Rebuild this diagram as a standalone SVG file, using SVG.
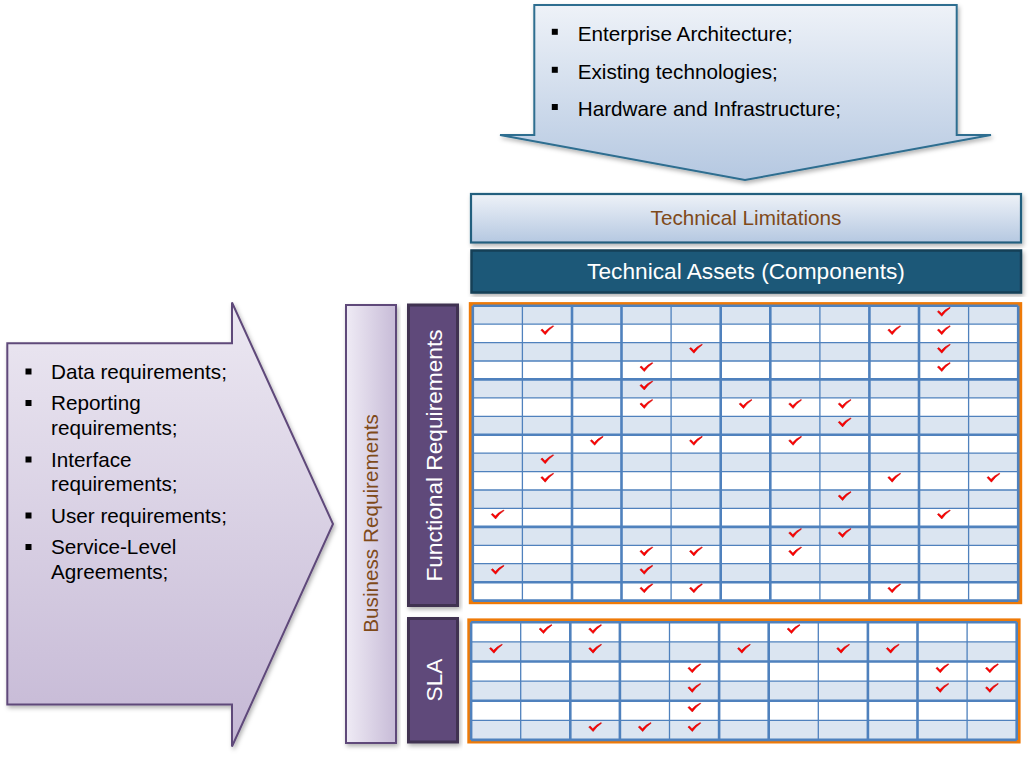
<svg xmlns="http://www.w3.org/2000/svg" width="1029" height="758" viewBox="0 0 1029 758">
<style>
  .txt { font-family: "Liberation Sans", Arial, sans-serif; }
  .bul { font-size: 20.7px; fill: #000000; }
  .brown { font-size: 20.7px; fill: #7F4A1A; }
  .white { font-size: 22.7px; fill: #FFFFFF; }
  .sq { fill: #000000; }
  .purple { fill: #5F497A; stroke: #3F3151; stroke-width: 3; }
  .orange { fill: #FFFFFF; stroke: #EE7A08; stroke-width: 3.8; }
  .shade { fill: #DBE5F1; }
  .thin { fill: none; stroke: #4F81BD; stroke-width: 1.3; }
  .thick { fill: none; stroke: #4F81BD; stroke-width: 2.6; }
</style>
<defs>
  <linearGradient id="gBlue" x1="0" y1="0" x2="0" y2="1">
    <stop offset="0" stop-color="#EEF2F8"/>
    <stop offset="1" stop-color="#B5C8E1"/>
  </linearGradient>
  <linearGradient id="gLav" x1="0" y1="0" x2="0" y2="1">
    <stop offset="0" stop-color="#ECE8F2"/>
    <stop offset="1" stop-color="#C5B8D5"/>
  </linearGradient>
  <linearGradient id="gLavH" x1="0" y1="0" x2="1" y2="0">
    <stop offset="0" stop-color="#EFEBF5"/>
    <stop offset="1" stop-color="#C7BBD7"/>
  </linearGradient>
  <filter id="sh" x="-10%" y="-10%" width="120%" height="120%">
    <feDropShadow dx="1.5" dy="2.5" stdDeviation="2" flood-color="#000000" flood-opacity="0.3"/>
  </filter>
  <path id="chk" d="M0,4.4 L1.5,3.4 L4.1,6.1 Q7.6,2.1 12.4,0 L12.9,0.6 Q8,3.8 4.4,9 Z" fill="#FF0000" stroke="#C00000" stroke-width="0.5"/>
</defs>

<rect x="0" y="0" width="1029" height="758" fill="#FFFFFF"/>

<g id="top-arrow">
  <path d="M534.3,5 H956.7 V135 H991 L745,180 L500,135 H534.3 Z" fill="url(#gBlue)" stroke="#2F6E90" stroke-width="2" filter="url(#sh)"/>
  <rect class="sq" x="551.8" y="28.8" width="6" height="6"/>
  <rect class="sq" x="551.8" y="66.8" width="6" height="6"/>
  <rect class="sq" x="551.8" y="104" width="6" height="6"/>
  <text class="txt bul" x="577.7" y="40.5">Enterprise Architecture;</text>
  <text class="txt bul" x="577.7" y="78.5">Existing technologies;</text>
  <text class="txt bul" x="577.7" y="115.7">Hardware and Infrastructure;</text>
</g>

<g id="technical-limitations">
  <rect x="471" y="194" width="550" height="48.5" fill="url(#gBlue)" stroke="#235E7E" stroke-width="2.2" filter="url(#sh)"/>
  <text class="txt brown" x="746" y="224.5" text-anchor="middle">Technical Limitations</text>
</g>

<g id="technical-assets">
  <rect x="471.5" y="250.5" width="549.5" height="42" fill="#1F5878" stroke="#163F57" stroke-width="2.5" filter="url(#sh)"/>
  <text class="txt white" x="746" y="278.8" text-anchor="middle">Technical Assets (Components)</text>
</g>

<g id="left-arrow">
  <path d="M7.3,343.3 H232 V302.5 L333,524 L232,746.5 V704.5 H7.3 Z" fill="url(#gLav)" stroke="#5F497A" stroke-width="2" filter="url(#sh)"/>
  <rect class="sq" x="25.5" y="368.5" width="6" height="6"/>
  <rect class="sq" x="25.5" y="400" width="6" height="6"/>
  <rect class="sq" x="25.5" y="456.5" width="6" height="6"/>
  <rect class="sq" x="25.5" y="512.5" width="6" height="6"/>
  <rect class="sq" x="25.5" y="544" width="6" height="6"/>
  <text class="txt bul" x="51" y="378.5">Data requirements;</text>
  <text class="txt bul" x="51" y="410">Reporting</text>
  <text class="txt bul" x="51" y="435">requirements;</text>
  <text class="txt bul" x="51" y="466.5">Interface</text>
  <text class="txt bul" x="51" y="491">requirements;</text>
  <text class="txt bul" x="51" y="522.5">User requirements;</text>
  <text class="txt bul" x="51" y="554">Service-Level</text>
  <text class="txt bul" x="51" y="579">Agreements;</text>
</g>

<g id="business-requirements">
  <rect x="346" y="305" width="50" height="438" fill="url(#gLavH)" stroke="#5F497A" stroke-width="2" filter="url(#sh)"/>
  <text class="txt brown" transform="translate(378.2,523.5) rotate(-90)" text-anchor="middle">Business Requirements</text>
</g>

<g id="functional-requirements">
  <rect class="purple" x="408.5" y="305" width="49" height="300.5" filter="url(#sh)"/>
  <text class="txt white" transform="translate(441.5,455.5) rotate(-90)" text-anchor="middle">Functional Requirements</text>
</g>

<g id="sla">
  <rect class="purple" x="408.5" y="618.5" width="49" height="123.5" filter="url(#sh)"/>
  <text class="txt white" transform="translate(441.5,680) rotate(-90)" text-anchor="middle">SLA</text>
</g>

<g id="functional-grid">
  <rect class="orange" x="470.7" y="304" width="549.6" height="298.3"/>
  <rect class="shade" x="472.8" y="305.7" width="545.4" height="18.43"/>
  <rect class="shade" x="472.8" y="342.6" width="545.4" height="18.43"/>
  <rect class="shade" x="472.8" y="379.4" width="545.4" height="18.43"/>
  <rect class="shade" x="472.8" y="416.3" width="545.4" height="18.43"/>
  <rect class="shade" x="472.8" y="453.1" width="545.4" height="18.43"/>
  <rect class="shade" x="472.8" y="490.0" width="545.4" height="18.43"/>
  <rect class="shade" x="472.8" y="526.9" width="545.4" height="18.43"/>
  <rect class="shade" x="472.8" y="563.7" width="545.4" height="18.43"/>
  <path class="thin" d="M522.4,305.7 V600.6 M671.1,305.7 V600.6 M819.9,305.7 V600.6 M968.6,305.7 V600.6
    M472.8,324.1 H1018.2 M472.8,342.6 H1018.2 M472.8,361.0 H1018.2 M472.8,397.9 H1018.2 M472.8,416.3 H1018.2
    M472.8,453.1 H1018.2 M472.8,471.6 H1018.2 M472.8,490.0 H1018.2 M472.8,508.4 H1018.2 M472.8,545.3 H1018.2 M472.8,563.7 H1018.2"/>
  <path class="thick" d="M472.8,305.7 V600.6 M572.0,305.7 V600.6 M621.5,305.7 V600.6 M720.7,305.7 V600.6 M770.3,305.7 V600.6
    M869.4,305.7 V600.6 M919.0,305.7 V600.6 M1018.2,305.7 V600.6
    M472.8,305.7 H1018.2 M472.8,379.4 H1018.2 M472.8,434.7 H1018.2 M472.8,526.9 H1018.2 M472.8,582.2 H1018.2 M472.8,600.6 H1018.2"/>
  <g id="functional-checks">
    <use href="#chk" x="937.4" y="307.3"/>
    <use href="#chk" x="540.8" y="325.7"/>
    <use href="#chk" x="887.8" y="325.7"/>
    <use href="#chk" x="937.4" y="325.7"/>
    <use href="#chk" x="689.5" y="344.2"/>
    <use href="#chk" x="937.4" y="344.2"/>
    <use href="#chk" x="639.9" y="362.6"/>
    <use href="#chk" x="937.4" y="362.6"/>
    <use href="#chk" x="639.9" y="381.0"/>
    <use href="#chk" x="639.9" y="399.5"/>
    <use href="#chk" x="739.1" y="399.5"/>
    <use href="#chk" x="788.7" y="399.5"/>
    <use href="#chk" x="838.2" y="399.5"/>
    <use href="#chk" x="838.2" y="417.9"/>
    <use href="#chk" x="590.3" y="436.3"/>
    <use href="#chk" x="689.5" y="436.3"/>
    <use href="#chk" x="788.7" y="436.3"/>
    <use href="#chk" x="540.8" y="454.7"/>
    <use href="#chk" x="540.8" y="473.2"/>
    <use href="#chk" x="887.8" y="473.2"/>
    <use href="#chk" x="987.0" y="473.2"/>
    <use href="#chk" x="838.2" y="491.6"/>
    <use href="#chk" x="491.2" y="510.0"/>
    <use href="#chk" x="937.4" y="510.0"/>
    <use href="#chk" x="788.7" y="528.5"/>
    <use href="#chk" x="838.2" y="528.5"/>
    <use href="#chk" x="639.9" y="546.9"/>
    <use href="#chk" x="689.5" y="546.9"/>
    <use href="#chk" x="788.7" y="546.9"/>
    <use href="#chk" x="491.2" y="565.3"/>
    <use href="#chk" x="639.9" y="565.3"/>
    <use href="#chk" x="639.9" y="583.8"/>
    <use href="#chk" x="689.5" y="583.8"/>
    <use href="#chk" x="887.8" y="583.8"/>
  </g>
</g>

<g id="sla-grid">
  <rect class="orange" x="469.2" y="620.3" width="549.5" height="121.3"/>
  <rect class="shade" x="471.1" y="641.9" width="545.6" height="19.6"/>
  <rect class="shade" x="471.1" y="681.1" width="545.6" height="19.6"/>
  <rect class="shade" x="471.1" y="720.3" width="545.6" height="19.6"/>
  <path class="thin" d="M520.7,622.3 V739.9 M669.5,622.3 V739.9 M818.3,622.3 V739.9 M967.1,622.3 V739.9
    M471.1,641.9 H1016.7 M471.1,681.1 H1016.7 M471.1,720.3 H1016.7"/>
  <path class="thick" d="M471.1,622.3 V739.9 M570.3,622.3 V739.9 M619.9,622.3 V739.9 M719.1,622.3 V739.9 M768.7,622.3 V739.9
    M867.9,622.3 V739.9 M917.5,622.3 V739.9 M1016.7,622.3 V739.9
    M471.1,622.3 H1016.7 M471.1,661.5 H1016.7 M471.1,700.7 H1016.7 M471.1,739.9 H1016.7"/>
  <g id="sla-checks">
    <use href="#chk" x="539.1" y="624.6"/>
    <use href="#chk" x="588.7" y="624.6"/>
    <use href="#chk" x="787.1" y="624.6"/>
    <use href="#chk" x="489.5" y="644.2"/>
    <use href="#chk" x="588.7" y="644.2"/>
    <use href="#chk" x="737.5" y="644.2"/>
    <use href="#chk" x="836.7" y="644.2"/>
    <use href="#chk" x="886.3" y="644.2"/>
    <use href="#chk" x="687.9" y="663.8"/>
    <use href="#chk" x="935.9" y="663.8"/>
    <use href="#chk" x="985.5" y="663.8"/>
    <use href="#chk" x="687.9" y="683.4"/>
    <use href="#chk" x="935.9" y="683.4"/>
    <use href="#chk" x="985.5" y="683.4"/>
    <use href="#chk" x="687.9" y="703.0"/>
    <use href="#chk" x="588.7" y="722.6"/>
    <use href="#chk" x="638.3" y="722.6"/>
    <use href="#chk" x="687.9" y="722.6"/>
  </g>
</g>

<g id="connectors"></g>
</svg>
